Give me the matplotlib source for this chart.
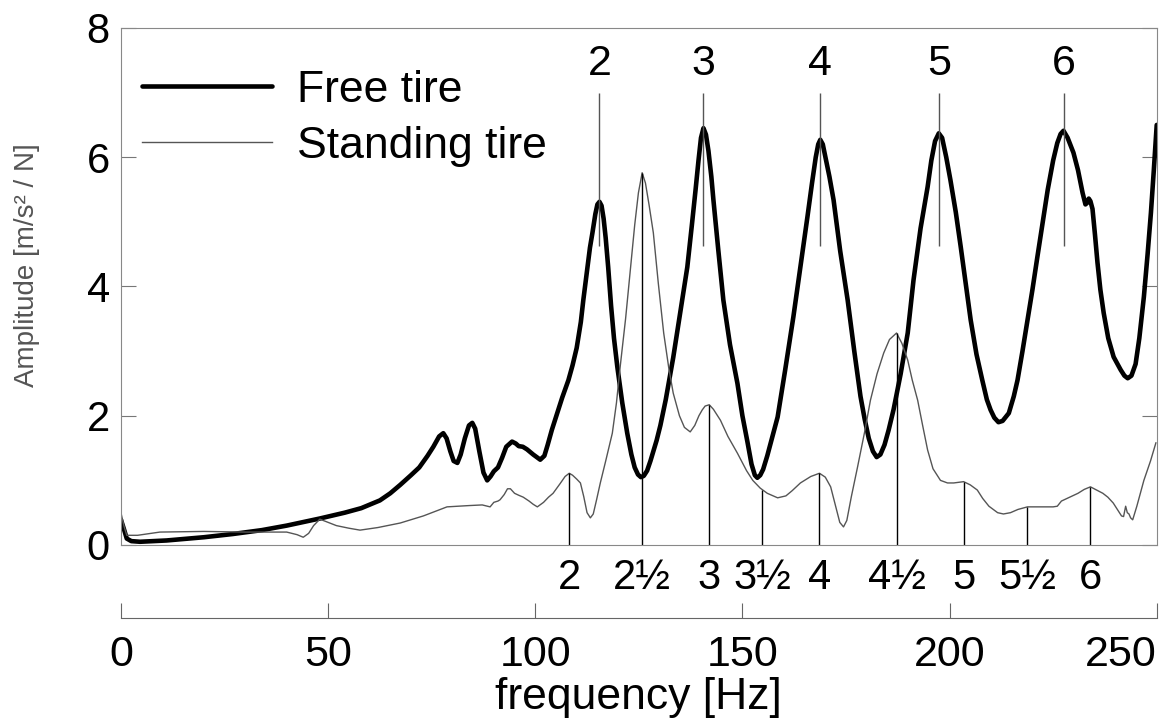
import numpy as np
import matplotlib.pyplot as plt

plt.rcParams['font.family'] = ['Liberation Sans', 'DejaVu Sans']
NARROW = ['Liberation Sans Narrow', 'Liberation Sans', 'DejaVu Sans']

# free tire response
free_f = [0, 0.7, 1.4, 2.5, 4.6, 11, 20, 27, 34, 40, 48, 54, 58, 62.5, 65, 67.4, 70, 72, 74,
          75.4, 76.8, 77.8, 78.6, 79.5, 80.3, 81.2, 82, 83, 84, 84.8, 85.5, 86.5, 87.5,
          88.4, 89.2, 90, 91, 92, 93, 94.4, 95.3, 96, 97, 98, 99.5, 101.2, 102.2, 103,
          104, 105.3, 106.5, 108, 109, 110, 111, 111.6, 112.5, 113.2, 113.8, 114.5, 115,
          115.5, 116, 116.5, 117, 117.6, 118.3, 119, 119.8, 121, 122.2, 123.2, 124,
          124.8, 125.5, 126.2, 127, 127.8, 128.5, 129.3, 130.2, 131.5, 133.3, 135, 136.7,
          137.8, 138.7, 139.4, 140, 140.6, 141.2, 141.8, 142.5, 143, 144.2, 145.4, 147,
          148.8, 150, 151.2, 152.2, 153, 153.6, 154.3, 155, 156, 157, 158.5, 160.3,
          162.3, 164, 165.7, 166.8, 167.7, 168.3, 168.8, 169.4, 170.2, 171, 172, 173.6,
          175.4, 177, 178.5, 179.5, 180.5, 181.5, 182.4, 183.3, 184.3, 185.3, 186.5,
          188.2, 189.9, 191.3, 193, 194.7, 195.6, 196.5, 197.4, 198.2, 199.2, 200.2,
          201.5, 202.7, 204, 205.1, 206.5, 207.9, 209, 209.9, 210.8, 211.8, 212.8, 214.3,
          215.5, 216.4, 217.6, 218.8, 220, 221.2, 222.5, 223.7, 225, 226, 226.8, 227.5,
          228.5, 229.9, 231, 232.1, 232.8, 233.3, 233.6, 234, 234.5, 235.1, 235.7, 236.4,
          237.2, 238.3, 239.6, 241.3, 242.2, 243, 243.9, 244.9, 245.8, 246.9, 247.8,
          248.6, 249.3, 250]
free_a = [0.39, 0.25, 0.1, 0.06, 0.05, 0.07, 0.12, 0.17, 0.23, 0.3, 0.41, 0.5, 0.57, 0.69, 0.8, 0.93, 1.08, 1.2, 1.38,
          1.52, 1.68, 1.73, 1.65, 1.45, 1.3, 1.27, 1.4, 1.65, 1.85, 1.89, 1.8, 1.45, 1.12,
          1.0, 1.06, 1.14, 1.2, 1.35, 1.52, 1.6, 1.57, 1.53, 1.52, 1.48, 1.4, 1.32, 1.38, 1.55,
          1.78, 2.04, 2.28, 2.55, 2.78, 3.05, 3.45, 3.79, 4.25, 4.6, 4.83, 5.12, 5.27,
          5.31, 5.25, 5.05, 4.75, 4.3, 3.7, 3.2, 2.76, 2.2, 1.73, 1.4, 1.2,
          1.09, 1.05, 1.07, 1.15, 1.3, 1.45, 1.62, 1.85, 2.25, 2.9, 3.6, 4.3,
          4.95, 5.5, 5.95, 6.3, 6.45, 6.35, 6.1, 5.7, 5.34, 4.55, 3.79, 3.1,
          2.5, 2.0, 1.6, 1.25, 1.08, 1.04, 1.08, 1.17, 1.38, 1.62, 1.98, 2.7,
          3.53, 4.3, 5.08, 5.6, 6.0, 6.2, 6.27, 6.2, 5.95, 5.7, 5.34, 4.55,
          3.79, 3.0, 2.3, 1.95, 1.65, 1.45, 1.36, 1.4, 1.55, 1.78, 2.1,
          2.65, 3.28, 4.1, 4.9, 5.54, 5.95, 6.25, 6.37, 6.3, 6.0, 5.65,
          5.15, 4.61, 4.0, 3.48, 2.95, 2.55, 2.25, 2.09, 1.97, 1.9, 1.92, 2.04,
          2.3, 2.55, 3.0, 3.48, 3.95, 4.46, 5.0, 5.5, 5.95, 6.22, 6.36, 6.41,
          6.3, 6.07, 5.8, 5.45, 5.27, 5.3, 5.36, 5.32, 5.2, 4.8, 4.37, 3.95,
          3.59, 3.2, 2.91, 2.71, 2.62, 2.58, 2.62, 2.8, 3.2, 3.84, 4.5,
          5.14, 5.8, 6.5]

# standing tire response
stand_f = [0, 0.7, 1.4, 4, 9.4, 20, 30, 40, 42.5, 44, 45.3, 46.5, 48, 50, 52, 55, 57.7, 62,
           67.4, 73, 78.7, 84, 87.2, 89.1, 90, 91, 91.5, 92.5, 93.3, 94, 95, 96, 97.1,
           98.5, 99.5, 100.5, 102, 103.2, 104.3, 106, 107.2, 108.2, 109, 110, 110.9,
           111.7, 112.5, 113.3, 114, 114.8, 115.7, 117, 118.6, 119.6, 120.5, 121.8, 123,
           124, 124.9, 125.8, 126.6, 127.5, 128.5, 129.7, 131, 132.2, 133.3, 134.8, 136,
           137.4, 138.5, 139.5, 140.3, 141, 142, 143, 144.7, 146.5, 148.8, 151, 152.5,
           154.3, 156, 158.5, 160.5, 162, 164, 166.5, 168.6, 170, 171.3, 172.5, 173.5,
           174.4, 175.2, 176.3, 177.8, 179.5, 180.9, 182.5, 184.1, 185.5, 187.2, 188.5,
           189.9, 191, 192.3, 193.5, 194.7, 196, 197.8, 199.5, 201, 203.4, 205, 206.7,
           208, 209.5, 211.6, 213, 214.7, 216.5, 218.8, 222, 225, 226, 227, 229, 231,
           232.5, 234, 235.5, 237, 238.2, 239.5, 240.5, 241.5, 242, 242.5, 242.9, 243.3,
           243.7, 244.2, 245.2, 246.9, 248.5, 249.8]
stand_a = [0.5, 0.3, 0.15, 0.15, 0.2, 0.21, 0.2, 0.2, 0.16, 0.12, 0.18, 0.3, 0.4, 0.35, 0.3, 0.26, 0.23, 0.27,
           0.34, 0.45, 0.59, 0.61, 0.62, 0.59, 0.66, 0.68, 0.7, 0.78, 0.87, 0.87, 0.8, 0.77, 0.74,
           0.68, 0.63, 0.59, 0.66, 0.74, 0.8, 0.95, 1.06, 1.11, 1.08, 1.02, 0.96,
           0.75, 0.5, 0.42, 0.48, 0.7, 0.96, 1.3, 1.73, 2.2, 2.76, 3.5, 4.3,
           4.95, 5.45, 5.76, 5.6, 5.25, 4.83, 4.05, 3.28, 2.75, 2.35, 2.0, 1.82,
           1.75, 1.85, 2.0, 2.09, 2.15, 2.17, 2.1, 1.93, 1.68, 1.42, 1.15, 1.0,
           0.88, 0.8, 0.73, 0.76, 0.84, 0.96, 1.06, 1.11, 1.05, 0.9, 0.6, 0.35,
           0.28, 0.38, 0.75, 1.21, 1.75, 2.24, 2.65, 2.97, 3.18, 3.28, 3.12,
           2.86, 2.55, 2.24, 1.85, 1.47, 1.18, 1.0, 0.96, 0.96, 0.98, 0.93, 0.85,
           0.72, 0.6, 0.5, 0.48, 0.5, 0.55, 0.59, 0.59, 0.59, 0.6, 0.68, 0.74, 0.8,
           0.86, 0.9, 0.85, 0.8, 0.74, 0.65, 0.55, 0.45, 0.44, 0.6, 0.5, 0.48,
           0.42, 0.39, 0.6, 1.0, 1.3, 1.58]

# mode order markers
free_order_f = [115.5, 140.6, 168.8, 197.4, 227.5]
free_order_lab = ['2', '3', '4', '5', '6']
stand_order_f = [108.2, 125.8, 142, 154.8, 168.6, 187.2, 203.4, 218.8, 234]
stand_order_lab = ['2', '2½', '3', '3½', '4', '4½', '5', '5½', '6']

fig = plt.figure(figsize=(11.63, 7.23), dpi=100)
ax = fig.add_axes([0.104, 0.2462, 0.8906, 0.7151])
ax2 = fig.add_axes([0.104, 0.1452, 0.8906, 0.03])

ax.plot(free_f, free_a, color='black', lw=3.3, label='Free tire',
        solid_joinstyle='round', solid_capstyle='round')
ax.plot(stand_f, stand_a, color='#555555', lw=1.0, label='Standing tire')
ax.set_xlim(0, 250)
ax.set_ylim(0, 8)

tops = np.interp(stand_order_f, stand_f, stand_a)
ax.vlines(stand_order_f, 0, tops, color='black', lw=1)
for f, lab in zip(stand_order_f, stand_order_lab):
    ax.text(f, -0.51, lab, ha='center', va='center', fontsize=30,
            family=NARROW, clip_on=False)

ax.vlines(free_order_f, 4.62, 7.0, color='#555555', lw=1)
for f, lab in zip(free_order_f, free_order_lab):
    ax.text(f, 7.45, lab, ha='center', va='center', fontsize=31, family=NARROW)

ax.set_xticks([])
ax.set_yticks([0, 2, 4, 6, 8])
ax.tick_params(axis='y', direction='in', length=10.8, left=True, right=True,
               color='#777777', labelsize=30, pad=8)
ax.yaxis.get_major_ticks()[1].tick1line.set_color('magenta')
for s in ax.spines.values():
    s.set_color('#888888')

ax.legend(loc='upper left', bbox_to_anchor=(0.0203, 0.919), frameon=False, fontsize=32,
          handlelength=2.93, handletextpad=0.55, labelspacing=0.34, borderpad=0,
          borderaxespad=0)

fig.text(0.023, 1 - 265 / 723, 'Amplitude [m/s² / N]', rotation=90, ha='center',
         va='center', fontsize=20, color='#555555')

# frequency axis below
ax2.patch.set_visible(False)
ax2.set_xlim(0, 250)
ax2.set_ylim(0, 1)
for k in ['left', 'right', 'top']:
    ax2.spines[k].set_visible(False)
ax2.spines['bottom'].set_color('#666666')
ax2.set_yticks([])
ax2.set_xticks([0, 50, 100, 150, 200, 250])
ax2.tick_params(axis='x', direction='in', length=10.8, color='#666666', labelsize=31, pad=12)
ax2.get_xticklabels()[-1].set_horizontalalignment('right')
ax2.set_xlabel('frequency [Hz]', fontsize=32, labelpad=2)

fig.savefig('out.png', dpi=100)
